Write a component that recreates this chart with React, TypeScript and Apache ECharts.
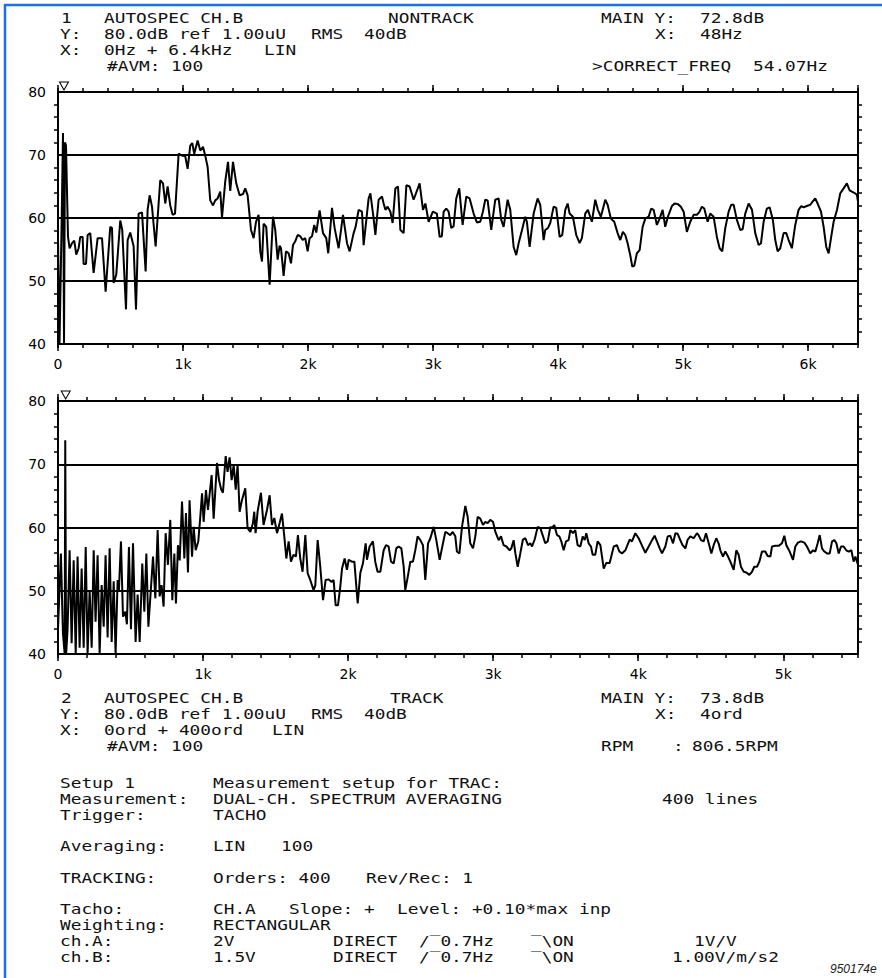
import React, { useEffect, useRef } from "react";
import * as echarts from "echarts";

// ---- DATA ----
// Upper panel: NONTRACK autospectrum, [Hz, dB]
const nontrackSpectrum: [number, number][] = [
  [0,57],[12,40],[28,58],[40,73.5],[48,40],[56,72],[64,71.5],[80,57],[93,55.2],
  [112,56],[130,56.4],[146,54.2],[165,55.2],[178,57],[197,57],[205,52.7],[224,52.7],[237,57.3],[258,57.6],[285,51.3],[317,56.8],[352,56.8],[381,48.3],[418,58.6],[432,58.4],[445,49.7],[466,51],[498,59.6],[514,58.1],[544,45.5],[557,56.5],[578,57.7],[605,55.5],[624,45.5],[645,60.7],[672,60.9],[701,51.5],[717,61.3],[733,63.6],[752,61.8],[781,55.5],[818,66],[840,65.5],[858,62.3],[877,65],[898,62],[917,60.5],[936,60.7],[965,70.2],[992,69.9],[1018,69.8],[1037,67.8],[1058,71.5],[1074,71.9],[1090,70.2],[1117,72.3],[1138,70.7],[1160,71.3],[1178,69.9],[1197,68.1],[1218,62.8],[1240,62],[1258,62.8],[1277,63.1],[1298,64.2],[1312,60.1],[1338,65.8],[1360,68.9],[1378,64.3],[1400,68.9],[1426,65.5],[1453,63.6],[1480,63.8],[1498,64.7],[1517,63.6],[1544,58.1],[1565,56.8],[1584,59.4],[1605,60.5],[1618,54.7],[1632,53.1],[1645,59.1],[1666,58.6],[1693,49.4],[1720,60.2],[1738,58.1],[1757,53.4],[1773,55.6],[1784,55.2],[1805,50.8],[1824,54.7],[1845,54.4],[1864,52.8],[1880,55.7],[1898,56.3],[1917,57.3],[1938,57.1],[1957,56.5],[1978,56.8],[1997,54.7],[2013,56.8],[2032,57.1],[2050,58.9],[2066,57.7],[2093,61.2],[2120,57.6],[2146,56.8],[2162,54.4],[2192,61.6],[2213,58.4],[2245,55.2],[2280,60.5],[2312,56],[2333,54.7],[2365,57.6],[2381,58.6],[2405,61.3],[2432,61],[2445,55.7],[2485,63.1],[2499,63.9],[2525,59.9],[2539,57.3],[2565,62.9],[2592,63.4],[2605,62.3],[2619,61.3],[2637,61.8],[2659,61],[2677,59.2],[2699,64.7],[2720,65],[2739,58.1],[2765,57.6],[2787,65.2],[2813,65],[2845,62.9],[2893,65.5],[2920,61.3],[2939,62.3],[2965,59.4],[2999,61],[3031,60.7],[3053,57],[3071,57.1],
  [3085,61],[3106,61.5],[3125,61],[3146,58.4],[3165,58.7],[3186,63.1],[3210,64.7],[3237,58.9],[3266,63.4],[3293,63.1],[3325,60.7],[3351,59.3],[3378,59.4],[3399,61],[3418,62.9],[3437,62.8],[3466,58.1],[3498,62.9],[3525,63.1],[3546,59.7],[3565,58.6],[3597,62.9],[3618,61.3],[3645,55.4],[3666,54.1],[3685,56],[3706,57.6],[3738,60.2],[3751,59.4],[3773,55.4],[3805,60.7],[3837,63.1],[3858,62.1],[3885,56.5],[3898,58.1],[3919,58.4],[3938,59.2],[3965,61.8],[3986,61.6],[4013,57],[4034,57.3],[4058,61.3],[4077,62.3],[4093,60.7],[4119,60.2],[4146,57.3],[4173,56],[4191,56.8],[4218,60.7],[4239,61.3],[4271,59.4],[4298,62.9],[4319,61.3],[4343,60.2],[4378,62.9],[4397,62.1],[4423,59.9],[4450,59.4],[4477,57.6],[4498,56.5],[4519,57.8],[4538,57.3],[4557,56],[4578,54.1],[4594,52.3],[4610,52.4],[4631,54.4],[4653,54.9],[4677,58.6],[4698,59.9],[4725,60.2],[4746,61.5],[4765,61.3],[4791,58.9],[4813,59.9],[4837,61.3],[4858,58.6],[4879,60.2],[4911,61.9],[4933,62.3],[4959,62.2],[4983,61.8],[5005,61],[5031,57.8],[5058,59.4],[5085,60.5],[5111,60.5],[5133,61],[5151,61.8],[5170,61.5],[5197,59.4],[5218,60.7],[5245,60.2],[5271,57],[5293,55.2],[5314,54.7],[5338,58.4],[5365,61],[5386,62.1],[5405,62.1],[5431,59.7],[5458,58.1],[5477,58.2],[5498,60.7],[5525,62.3],[5552,61.3],[5578,57.6],[5605,55.7],[5624,56],[5645,59.4],[5671,61.5],[5693,61.7],[5719,59.7],[5738,56.5],[5757,54.7],[5778,55.2],[5805,57.6],[5826,57.6],[5845,56.5],[5871,55.2],[5898,58.9],[5925,61.3],[5946,61.9],[5965,61.7],[5991,61.9],[6018,62.1],[6037,62.6],[6058,63.1],[6077,62.3],[6104,61],[6125,58.6],[6146,55.4],[6165,54.4],[6184,56.8],[6205,59.4],[6232,61.3],[6258,63.9],[6285,64.7],[6311,65.5],[6333,64.4],[6351,64.2],[6370,64],[6391,63.7],[6400,62.6]
];

// Lower panel: TRACK autospectrum, [Hz, dB]
const trackSpectrum: [number, number][] = [
  [0,44],[20,55.9],[34,43.3],[46,40],[50,73.8],[56,40],[66,43.9],[80,56.4],[94,41.7],[108,54.8],[122,40],[135,55.4],[149,41],[163,53.5],[177,41],[191,56.9],[204,40],[218,50.1],[232,41],[246,56.4],[259,45.1],[273,55.6],[287,40],[301,50.9],[315,44.3],[328,55.6],[342,42.6],[356,56.7],[370,41.9],[384,51.5],[397,40],[411,51.7],[420,50.1],[434,57.8],[448,45.9],[464,46.7],[475,44.7],[489,56.9],[503,43.9],[517,57.5],[535,41.9],[549,49.4],[563,41.9],[581,54.3],[595,46.7],[609,55.9],[623,44.3],[641,50.5],[655,55.4],[671,48.8],[687,59.6],[701,49.1],[714,50.9],[728,47.5],[742,59.1],[758,54.1],[774,61.2],[788,48.5],[802,55.9],[813,48],[827,57.2],[839,54.8],[855,64.1],[871,55.1],[882,62.3],[896,52.9],[907,64.3],[924,55.4],[935,60.1],[949,56.4],[967,57.8],[981,61.7],[993,65.4],[1004,60.9],[1020,65.9],[1034,62.8],[1059,68.3],[1073,61.4],[1096,70.2],[1110,67.5],[1125,66],[1137,65.5],[1156,71.3],[1169,68.8],[1183,71.1],[1197,67.5],[1211,69.9],[1225,66],[1238,69.9],[1252,62.5],[1268,64.3],[1291,66.2],[1307,59.9],[1326,59.3],[1344,60.7],[1353,62.5],[1362,59.1],[1376,62.5],[1399,65.5],[1417,60.4],[1441,62.8],[1459,65.1],[1475,60.4],[1491,61.5],[1510,59.1],[1528,60.7],[1544,62.2],[1560,58.6],
  [1574,55.1],[1590,57.8],[1606,54.6],[1624,55.7],[1640,55.4],[1654,58.8],[1670,55.1],[1686,53],[1705,58.8],[1721,52.8],[1739,51.7],[1762,50.1],[1774,50.9],[1790,58],[1808,53.8],[1827,48.5],[1845,51.7],[1866,51.8],[1884,51.4],[1900,51.7],[1914,47.7],[1930,47.7],[1946,50.6],[1958,53.5],[1976,55.1],[1992,53.3],[2004,54.9],[2026,54.6],[2043,54.6],[2066,48],[2084,52.8],[2102,54.3],[2121,57.5],[2130,54.9],[2148,57],[2171,57.8],[2187,54.6],[2203,53],[2222,53],[2245,56.4],[2261,57.2],[2279,57],[2296,54.6],[2314,54.3],[2332,56.7],[2348,57],[2367,56.7],[2383,53.8],[2394,50.1],[2411,52.2],[2429,54.6],[2447,54.6],[2463,56.4],[2479,58.6],[2498,58],[2516,57.2],[2532,51.7],[2551,57.5],[2567,58.3],
  [2590,60.1],[2608,58],[2631,54.9],[2654,57.5],[2670,59.3],[2686,59.1],[2704,58.8],[2721,59.3],[2739,58.6],[2750,56.2],[2767,55.9],[2785,60.1],[2808,63.4],[2824,61.7],[2842,57.5],[2861,56.7],[2877,58.6],[2893,61.7],[2911,61.4],[2930,60.4],[2946,60.9],[2962,60.7],[2980,61.2],[2999,60.9],[3015,59.3],[3038,58],[3054,58.6],[3072,57.2],[3091,57],[3114,56.4],[3125,56.7],[3141,58],[3153,55.9],[3169,53.8],[3187,55.9],[3205,58.1],[3222,58.3],[3240,57.2],[3256,57.5],[3268,57],[3286,58.1],[3307,60.1],[3325,59.9],[3341,58.8],[3359,57.5],[3376,57.8],[3394,60.1],[3405,59.9],[3421,60.4],[3440,58.8],[3456,58.6],[3470,57.8],[3486,56.4],[3502,57.8],[3520,58],[3532,59.6],[3550,59.1],[3566,59.6],[3582,57.2],[3601,57],[3617,58.6],[3631,58],[3642,59.1],[3658,57.5],[3674,57],[3686,55.7],[3704,55.7],[3720,57.8],[3739,57.2],[3762,53.5],[3780,54.4],[3803,54.4],[3831,57],[3853,57.2],[3870,56.2],[3888,55.9],[3911,56.4],[3922,57],[3941,58.1],[3957,57.8],[3980,59.1],[4003,58.3],[4019,57.5],[4049,56],[4072,57],[4095,58],[4113,58.7],[4129,57.8],[4148,56.7],[4164,55.9],[4187,57],[4203,58.6],[4221,58.7],[4240,57.5],[4256,59.1],[4272,59],[4290,58],[4306,57.2],[4325,56.7],[4341,58.1],[4359,58.6],[4382,58.3],[4405,59.1],[4416,58.8],[4433,58],[4451,57.8],[4467,59.1],[4486,57.5],[4504,55.9],[4520,57.2],[4538,58.3],[4554,57.5],[4566,56.4],[4584,55.4],[4600,56.2],[4619,55.4],[4635,54.6],[4658,53.3],[4676,56.4],[4692,55.7],[4708,53.8],[4727,53],[4745,52.9],[4766,52.5],[4784,53],[4800,53.8],[4819,53.8],[4835,54.6],[4853,56.2],[4876,56.2],[4892,55.5],[4911,55.4],[4922,57],[4945,57.1],[4968,57.1],[4991,57.5],[5007,58.7],[5021,57.2],[5044,56.2],[5067,54.9],[5083,57],[5101,57.6],[5122,57.8],[5145,57.6],[5163,57],[5186,55.9],[5205,56.4],[5221,56.2],[5237,57.5],[5251,58.8],[5267,56.7],[5283,56.2],[5301,55.9],[5320,55.9],[5336,57.8],[5352,58],[5366,57.5],[5382,55.9],[5398,57],[5416,57],[5434,56.4],[5451,56.2],[5469,56.4],[5485,54.6],[5497,55.4],[5515,54.1]
];

const topXMax = 6400;
const btmXMax = 5515;
const dbMin = 40;
const dbMax = 80;
const topCursor: [number, number] = [48, 80];
const btmCursor: [number, number] = [53, 80];

// ---- TEXT ----
const textItems: { x: number; y: number; t: string }[] = [
  { x: 61, y: 18.5, t: "1" },
  { x: 104, y: 18.5, t: "AUTOSPEC CH.B" },
  { x: 388, y: 18.5, t: "NONTRACK" },
  { x: 601, y: 18.5, t: "MAIN Y:" },
  { x: 700, y: 18.5, t: "72.8dB" },
  { x: 60, y: 34, t: "Y:" },
  { x: 104, y: 34, t: "80.0dB ref 1.00uU" },
  { x: 311, y: 34, t: "RMS" },
  { x: 364, y: 34, t: "40dB" },
  { x: 655, y: 34, t: "X:" },
  { x: 700, y: 34, t: "48Hz" },
  { x: 60, y: 50, t: "X:" },
  { x: 104, y: 50, t: "0Hz + 6.4kHz" },
  { x: 264, y: 50, t: "LIN" },
  { x: 107, y: 66, t: "#AVM:" },
  { x: 171, y: 66, t: "100" },
  { x: 592, y: 66, t: ">CORRECT_FREQ" },
  { x: 753, y: 66, t: "54.07Hz" },

  { x: 61, y: 698, t: "2" },
  { x: 104, y: 698, t: "AUTOSPEC CH.B" },
  { x: 390, y: 698, t: "TRACK" },
  { x: 601, y: 698, t: "MAIN Y:" },
  { x: 700, y: 698, t: "73.8dB" },
  { x: 60, y: 714, t: "Y:" },
  { x: 104, y: 714, t: "80.0dB ref 1.00uU" },
  { x: 311, y: 714, t: "RMS" },
  { x: 364, y: 714, t: "40dB" },
  { x: 655, y: 714, t: "X:" },
  { x: 700, y: 714, t: "4ord" },
  { x: 60, y: 730, t: "X:" },
  { x: 104, y: 730, t: "0ord + 400ord" },
  { x: 272, y: 730, t: "LIN" },
  { x: 107, y: 746, t: "#AVM:" },
  { x: 171, y: 746, t: "100" },
  { x: 601, y: 746, t: "RPM" },
  { x: 673, y: 746, t: ":" },
  { x: 692, y: 746, t: "806.5RPM" },

  { x: 60, y: 783, t: "Setup 1" },
  { x: 213, y: 783, t: "Measurement setup for TRAC:" },
  { x: 60, y: 799, t: "Measurement:" },
  { x: 213, y: 799, t: "DUAL-CH. SPECTRUM AVERAGING" },
  { x: 662, y: 799, t: "400 lines" },
  { x: 60, y: 815, t: "Trigger:" },
  { x: 213, y: 815, t: "TACHO" },
  { x: 60, y: 846, t: "Averaging:" },
  { x: 213, y: 846, t: "LIN" },
  { x: 281, y: 846, t: "100" },
  { x: 60, y: 878, t: "TRACKING:" },
  { x: 213, y: 878, t: "Orders: 400" },
  { x: 366, y: 878, t: "Rev/Rec: 1" },
  { x: 60, y: 909, t: "Tacho:" },
  { x: 213, y: 909, t: "CH.A" },
  { x: 289, y: 909, t: "Slope: +" },
  { x: 397, y: 909, t: "Level: +0.10*max inp" },
  { x: 60, y: 925, t: "Weighting:" },
  { x: 213, y: 925, t: "RECTANGULAR" },
  { x: 60, y: 941, t: "ch.A:" },
  { x: 213, y: 941, t: "2V" },
  { x: 333, y: 941, t: "DIRECT" },
  { x: 419, y: 941, t: "/\u203E0.7Hz" },
  { x: 531, y: 941, t: "\u203E\\ON" },
  { x: 694, y: 941, t: "1V/V" },
  { x: 60, y: 957, t: "ch.B:" },
  { x: 213, y: 957, t: "1.5V" },
  { x: 333, y: 957, t: "DIRECT" },
  { x: 419, y: 957, t: "/\u203E0.7Hz" },
  { x: 531, y: 957, t: "\u203E\\ON" },
  { x: 672, y: 957, t: "1.00V/m/s2" },
];

const BLACK = "#000";
const BLUE = "#1a6ff0";

function kLabel(v: number): string {
  if (v === 0) return "0";
  if (v % 1000 === 0) return v / 1000 + "k";
  return "";
}

function makeXAxes(gridIndex: number, max: number) {
  const base = {
    type: "value",
    gridIndex,
    min: 0,
    max,
    splitLine: { show: false },
    minorTick: { show: false },
  };
  const line = { show: true, onZero: false, lineStyle: { color: BLACK, width: 2 } };
  const noLine = { show: false, onZero: false };
  const majorTick = { show: true, length: 7, lineStyle: { color: BLACK, width: 1.5 } };
  const minorTick = { show: true, length: 4, lineStyle: { color: BLACK, width: 1.5 } };
  return [
    {
      ...base,
      position: "bottom",
      interval: 1000,
      axisLine: line,
      axisTick: majorTick,
      axisLabel: {
        show: true,
        margin: 13,
        color: BLACK,
        fontSize: 14,
        fontFamily: "DejaVu Sans",
        showMaxLabel: false,
        formatter: kLabel,
      },
    },
    { ...base, position: "bottom", interval: 200, axisLine: noLine, axisTick: minorTick, axisLabel: { show: false } },
    { ...base, position: "top", interval: 1000, axisLine: line, axisTick: majorTick, axisLabel: { show: false } },
    { ...base, position: "top", interval: 200, axisLine: noLine, axisTick: minorTick, axisLabel: { show: false } },
  ];
}

function makeYAxes(gridIndex: number) {
  const base = {
    type: "value",
    gridIndex,
    min: dbMin,
    max: dbMax,
    interval: 10,
    axisLine: { show: true, onZero: false, lineStyle: { color: BLACK, width: 2 } },
    axisTick: { show: false },
    minorTick: { show: true, splitNumber: 5, length: 4, lineStyle: { color: BLACK, width: 1.5 } },
  };
  return [
    {
      ...base,
      position: "left",
      axisLabel: { show: true, margin: 12, color: BLACK, fontSize: 14, fontFamily: "DejaVu Sans" },
      splitLine: { show: true, lineStyle: { color: BLACK, width: 1.8 } },
    },
    {
      ...base,
      position: "right",
      axisLabel: { show: false },
      splitLine: { show: false },
    },
  ];
}

function makeSeries(gridIndex: number, data: [number, number][], cursor: [number, number]) {
  return {
    type: "line",
    xAxisIndex: gridIndex * 4,
    yAxisIndex: gridIndex * 2,
    data,
    symbol: "none",
    silent: true,
    lineStyle: { color: BLACK, width: 2 },
    markPoint: {
      silent: true,
      symbol: "triangle",
      symbolRotate: 180,
      symbolSize: [9, 8],
      symbolOffset: [0, -6],
      itemStyle: { color: "#fff", borderColor: BLACK, borderWidth: 1 },
      label: { show: false },
      data: [{ coord: cursor }],
    },
  };
}

export default function App() {
  const ref = useRef<HTMLDivElement>(null);

  useEffect(() => {
    document.body.style.margin = "0";
    document.body.style.background = "#fff";
    if (!ref.current) return;
    const chart = echarts.init(ref.current, undefined, { renderer: "svg" });

    const graphic: any[] = [
      { type: "line", shape: { x1: 5, y1: 4, x2: 5, y2: 978 }, style: { stroke: BLUE, lineWidth: 2.5 } },
      { type: "line", shape: { x1: 4, y1: 5, x2: 882, y2: 5 }, style: { stroke: BLUE, lineWidth: 2.5 } },
      ...textItems.map((it) => ({
        type: "text",
        x: it.x,
        y: it.y,
        scaleX: 1.27,
        silent: true,
        style: {
          text: it.t,
          fontSize: 14,
          fontFamily: "DejaVu Sans Mono",
          fill: "#111",
          align: "left",
          verticalAlign: "middle",
        },
      })),
      {
        type: "text",
        x: 830,
        y: 969,
        silent: true,
        style: {
          text: "950174e",
          fontSize: 12,
          fontStyle: "italic",
          fontFamily: "Liberation Sans",
          fill: "#222",
          align: "left",
          verticalAlign: "middle",
        },
      },
    ];

    chart.setOption({
      animation: false,
      backgroundColor: "#fff",
      grid: [
        { left: 58, top: 92, width: 800, height: 252 },
        { left: 58, top: 401, width: 800, height: 253 },
      ],
      xAxis: [...makeXAxes(0, topXMax), ...makeXAxes(1, btmXMax)],
      yAxis: [...makeYAxes(0), ...makeYAxes(1)],
      series: [makeSeries(0, nontrackSpectrum, topCursor), makeSeries(1, trackSpectrum, btmCursor)],
      graphic,
    });

    return () => {
      chart.dispose();
    };
  }, []);

  return <div ref={ref} style={{ width: 882, height: 978 }} />;
}
